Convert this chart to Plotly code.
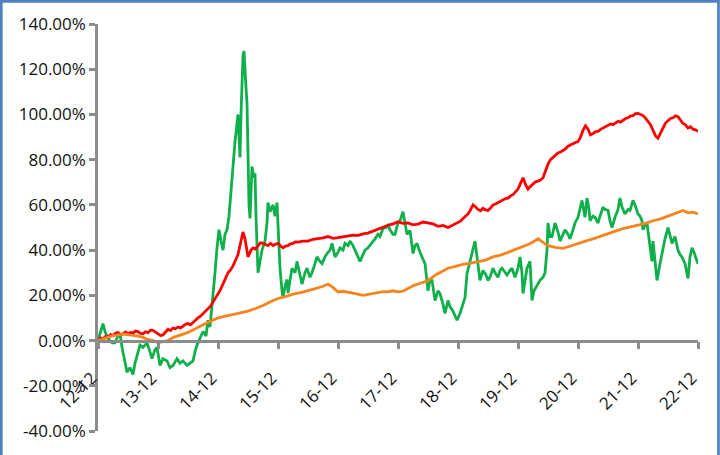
import plotly.graph_objects as go

# ---- data (months since Dec-2012, value in %) ----
tick_months = [0, 12, 24, 36, 48, 60, 72, 84, 96, 108, 120]
tick_labels = ["12-12", "13-12", "14-12", "15-12", "16-12", "17-12",
               "18-12", "19-12", "20-12", "21-12", "22-12"]
y_ticks = [-40, -20, 0, 20, 40, 60, 80, 100, 120, 140]
y_labels = ["-40.00%", "-20.00%", "0.00%", "20.00%", "40.00%", "60.00%",
            "80.00%", "100.00%", "120.00%", "140.00%"]

red_m = [0, 0.5, 1, 1.5, 2, 2.5, 3, 3.5, 4, 4.5, 5, 5.5, 6, 6.5, 7, 7.5, 8, 8.5, 9, 9.5,
         10, 10.5, 11, 11.5, 12, 12.5, 13, 13.5, 14, 14.5, 15, 15.5, 16, 16.5, 17, 17.5,
         18, 18.5, 19, 19.5, 20, 20.5, 21, 21.5, 22, 22.5, 23, 23.5, 24, 24.5, 25, 25.5,
         26, 26.5, 27, 27.5, 28, 28.6, 29, 29.4, 30, 30.6, 31, 31.5, 32, 32.5, 33, 33.5,
         34, 34.5, 35, 35.5, 36, 36.5, 37, 37.5, 38, 38.5, 39, 39.5, 40, 41, 42, 43, 44,
         45, 46, 47, 48, 49, 50, 51, 52, 53, 54, 55, 56, 57, 58, 59, 60, 61, 62, 63, 64,
         65, 66, 67, 68, 69, 70, 71, 72, 72.5, 73, 73.5, 74, 74.5, 75, 75.5, 76, 76.5, 77,
         77.5, 78, 78.5, 79, 79.5, 80, 80.5, 81, 81.5, 82, 82.5, 83, 83.5, 84, 84.5, 85,
         85.5, 86, 86.5, 87, 87.5, 88, 88.5, 89, 89.5, 90, 90.5, 91, 91.5, 92, 92.5, 93,
         93.5, 94, 94.5, 95, 95.5, 96, 96.5, 97, 97.5, 98, 98.5, 99, 99.5, 100, 100.5,
         101, 101.5, 102, 102.5, 103, 103.5, 104, 104.5, 105, 105.5, 106, 106.5, 107,
         107.5, 108, 108.5, 109, 109.5, 110, 110.5, 111, 111.5, 112, 112.5, 113, 113.5,
         114, 114.5, 115, 115.5, 116, 116.5, 117, 117.5, 118, 118.5, 119, 119.5, 120]
red_v = [0, 1.2, 0.8, 1.8, 1.5, 2.6, 2.2, 3.2, 3.5, 2.6, 3, 3.8, 3, 3.6, 3.3, 4.2, 4, 3.2, 3, 3.9,
         3.5, 4.6, 4.5, 3.6, 3, 2.2, 2.5, 3.8, 5, 4.4, 5.5, 5.2, 6, 5.6, 6.5, 7.2,
         7.5, 7, 8, 9.2, 10, 10.8, 12, 12.8, 14, 15.2, 17, 18.8, 21, 22.5, 25, 27.2,
         30, 31.2, 33, 35.5, 38, 44, 48, 45, 37, 40, 41, 40.5, 42, 43.2, 43, 42.4,
         42, 43, 42, 42.6, 43, 41.8, 41, 41.8, 42, 42.8, 43, 43.6, 43.5, 44, 44, 44.8, 45,
         45.4, 46, 45.2, 45.5, 45.8, 46, 46.6, 46.5, 47.2, 47.5, 48.4, 49.5, 50.2, 51, 51.6, 52.5, 51.8, 52, 51.2, 51.5,
         52.4, 52, 51.6, 50.5, 50.9, 50, 51, 52, 52.8, 54, 55.2, 56, 57.8, 60, 59.2, 58, 57.4, 58.5,
         57.8, 57.5, 58.6, 60, 60.4, 61, 61.6, 62, 62.8, 63, 64, 64.5, 65.6, 67, 69.5, 72,
         69, 67, 68.2, 69, 70.2, 70.5, 71, 72, 75, 78, 80, 81, 81.8, 83, 83.4, 84,
         84.8, 86, 86.4, 87, 87.6, 88, 90, 93, 95, 93.5, 91, 91.5, 92.4, 92.5, 93.4,
         94, 94.6, 95, 95.8, 95.5, 96.4, 97, 96.6, 97.5, 98.2, 98.5, 99.4, 99.5,
         100.4, 100.5, 100, 99.5, 98.4, 97, 95.5, 93, 90.5, 89.5, 91.5, 94, 96.2,
         97, 98.2, 98.5, 99.4, 99, 97.6, 96, 95.4, 94, 94.6, 93.5, 93.2, 92.5]

orange_m = [0, 1, 2, 3, 4, 5, 6, 7, 8, 9, 10, 11, 12, 13, 14, 15, 16.5, 18, 19.5, 21, 22.5,
            24, 25.5, 27, 28.5, 30, 31.5, 33, 34.5, 36, 37.5, 39, 40.5, 42, 43.5, 45, 46, 47,
            48, 49, 50, 51.5, 53, 54.5, 56, 57, 58, 59, 60, 61, 62, 63, 64, 65, 66, 67.5,
            69, 70, 71.5, 73, 74.5, 76, 77.5, 79, 80.5, 82, 84, 86, 87, 88, 89, 90, 91.5,
            93, 94.5, 96, 97.5, 99, 100.5, 102, 103.5, 105, 106.5, 108, 109.5, 111, 112.5,
            114, 115.5, 117, 118, 119, 120]
orange_v = [0, 0.8, 1.5, 2.2, 2.5, 2.9, 2.6, 2.4, 2, 1.4, 0.5, 0, -1, -0.5, 0, 1.3, 2.4, 3.6, 5.2, 7, 8.6,
            10, 10.8, 11.5, 12.4, 13, 14.2, 15.5, 17.2, 18.6, 19.4, 20.5, 21.2, 22, 23, 24, 25, 23.5,
            21.5, 21.8, 21.5, 20.8, 20, 20.6, 21, 21.6, 21.5, 22, 21.5, 21.8, 23, 24.2, 25, 25.6, 26.5, 29,
            30.6, 32, 32.8, 33.7, 34.2, 35, 35.6, 37, 37.8, 39, 40.6, 42.5, 43.6, 45, 43.4, 42, 41.2,
            40.8, 41.8, 43, 44, 45, 46.2, 47.5, 48.4, 49.5, 50.2, 51, 51.8, 53, 53.8,
            55, 56.2, 57.5, 56.5, 56.8, 56]

green_m = [0, 0.4, 1, 1.4, 2, 2.8, 3.4, 4, 4.4, 4.8, 5.4, 5.8, 6.4, 7, 7.4, 7.8, 8.4, 9, 9.8,
           10.4, 10.8, 11.4, 11.8, 12.4, 13, 13.8, 14.4, 15, 15.8, 16.4, 17, 17.8, 18.4, 19,
           19.4, 19.8, 20.4, 21, 21.6, 22, 22.4, 22.8, 23, 23.4, 23.8, 24.2, 24.6, 25, 25.4,
           25.8, 26.2, 26.4, 26.8, 27, 27.4, 27.8, 28, 28.2, 28.4, 28.6, 28.8, 29, 29.2, 29.4,
           29.6, 29.8, 30, 30.2, 30.4, 30.8, 31.2, 31.4, 31.6, 31.8, 32, 32.4, 32.8, 33.4,
           33.8, 34, 34.4, 35, 35.4, 35.8, 36, 36.4, 36.8, 37, 37.4, 37.8, 38, 38.4, 38.8,
           39.4, 39.8, 40.4, 40.8, 41.4, 41.8, 42.4, 42.8, 43.4, 43.8, 44.4, 44.8, 45.4, 45.8,
           46.4, 46.8, 47.4, 48, 48.4, 49, 49.4, 50, 50.4, 51, 51.4, 52, 52.4, 52.8, 53.4, 54,
           54.8, 55.4, 56, 56.4, 57, 57.6, 58, 58.4, 59, 59.4, 60, 60.4, 61, 61.4, 61.8, 62.4,
           63, 63.4, 63.8, 64.4, 64.8, 65.4, 66, 66.4, 66.8, 67.4, 68, 68.4, 69, 69.4, 70,
           70.4, 71, 71.4, 71.8, 72.4, 72.8, 73.4, 73.8, 74.4, 75, 75.4, 75.8, 76.4, 77, 77.6,
           78, 78.4, 79, 79.4, 80, 80.4, 80.8, 81.4, 81.8, 82.4, 82.8, 83.4, 84, 84.4, 84.8,
           85, 85.4, 85.8, 86.4, 86.8, 87.2, 87.6, 88, 88.4, 89, 89.4, 89.8, 90, 90.4, 90.8,
           91.4, 92, 92.4, 92.8, 93.4, 94, 94.4, 95, 95.4, 96, 96.4, 96.8, 97.2, 97.4, 97.8,
           98.2, 98.4, 99, 99.4, 100, 100.4, 101, 101.4, 102, 102.4, 102.8, 103.4, 104, 104.4,
           104.8, 105.4, 106, 106.4, 107, 107.4, 108, 108.4, 108.8, 109, 109.4, 109.8, 110.4,
           110.8, 111, 111.4, 111.8, 112.4, 113, 113.4, 114, 114.4, 114.8, 115.4, 116, 116.4,
           116.8, 117.4, 118, 118.4, 118.8, 119.2, 119.6, 120]
green_v = [0, 3, 7.5, 4, 1, -1, -1, 2, 3, -3, -9, -14, -12, -15, -10, -7, -2, -3, -1,
           -5, -8, -4, -3, -11, -8, -9, -12, -11, -8, -10, -9, -11, -10, -9,
           -5, -2, 1, 4, 2, 9, 6, 15, 19, 30, 41, 49, 44, 40, 47,
           49, 55, 61, 70, 75, 88, 96, 100, 90, 81, 100, 115, 126, 128, 122,
           112, 105, 80, 60, 54, 77, 72, 74, 55, 44, 30, 35, 40, 44,
           52, 61, 57, 60, 55, 61, 52, 32, 22, 19, 24, 27, 21, 26, 32,
           30, 35, 29, 25, 30, 32, 28, 30, 34, 37, 35, 34, 37, 38.5,
           40, 43, 37, 39, 41, 40, 43, 42, 44, 42, 40, 37, 35, 37, 40, 41,
           43, 45, 47, 46, 49.6, 50, 51, 49, 47, 47, 52, 53, 57, 52, 47, 48.7,
           38.5, 42, 43, 39, 37, 34, 22, 27, 26.6, 17.7, 22, 20.8, 16, 12, 17.7,
           15, 13, 11, 9, 12, 14.6, 19, 29.6, 35, 41, 44, 37, 26.6, 31, 29,
           26.6, 28, 32, 30, 28, 31, 32, 30, 29, 31, 32, 28, 32, 37, 30,
           20.8, 27, 32, 35, 17.7, 22, 23.5, 25, 26.6, 28, 30, 40, 52, 46, 46,
           52, 48, 44, 46, 49, 47, 45, 49, 52, 54.5, 58, 62, 57, 54.5, 63,
           58, 53, 55, 54.5, 52, 55, 59, 58, 57.6, 53, 50, 54.5, 58, 63,
           59, 56, 58, 57.6, 62, 60, 56, 55, 53, 49, 51, 52, 41,
           35, 44, 36, 26.6, 34, 41, 45, 50, 46, 43, 46, 40, 38,
           37, 34, 27.5, 37, 41, 39, 36, 34]

# ---- figure ----
fig = go.Figure()
fig.add_trace(go.Scatter(x=green_m, y=green_v, mode="lines",
                         line=dict(color="#0FAF4B", width=2.8), name="green"))
fig.add_trace(go.Scatter(x=red_m, y=red_v, mode="lines",
                         line=dict(color="#FF0000", width=2.8), name="red"))
fig.add_trace(go.Scatter(x=orange_m, y=orange_v, mode="lines",
                         line=dict(color="#F7841C", width=2.8), name="orange"))

axis_col = "#8C8C8C"
font = dict(family="Open Sans, Noto Sans, sans-serif", size=17, color="#111111")

# a little trailing padding so the rotated label ends right at its tick
padded_labels = [t + "\u00a0\u00a0" for t in tick_labels]

fig.update_layout(
    width=720, height=455,
    margin=dict(l=98, r=22, t=24, b=24),
    paper_bgcolor="white", plot_bgcolor="white",
    showlegend=False,
    font=font,
    xaxis=dict(range=[0, 120], tickvals=tick_months, ticktext=padded_labels,
               tickangle=-45, showgrid=False, zeroline=False,
               showline=True, linecolor=axis_col, linewidth=2.5,
               ticks="outside", ticklen=7, tickwidth=2.5, tickcolor=axis_col,
               ticklabelstandoff=6,
               anchor="free", position=40 / 180, tickfont=font),
    yaxis=dict(range=[-40, 140], tickvals=y_ticks, ticktext=y_labels,
               showgrid=False, zeroline=False,
               showline=True, linecolor=axis_col, linewidth=2.5,
               ticks="outside", ticklen=6, tickwidth=2.5, tickcolor=axis_col,
               tickfont=font),
)

# blue frame around the picture
fig.add_shape(type="rect", xref="paper", yref="paper",
              x0=(1.3 - 98) / 600, x1=(718.5 - 98) / 600,
              y0=(431 - 480) / 407, y1=(431 - 1.3) / 407,
              line=dict(color="#4F7FC0", width=2.7), fillcolor="rgba(0,0,0,0)")

fig.write_html("out.html")
